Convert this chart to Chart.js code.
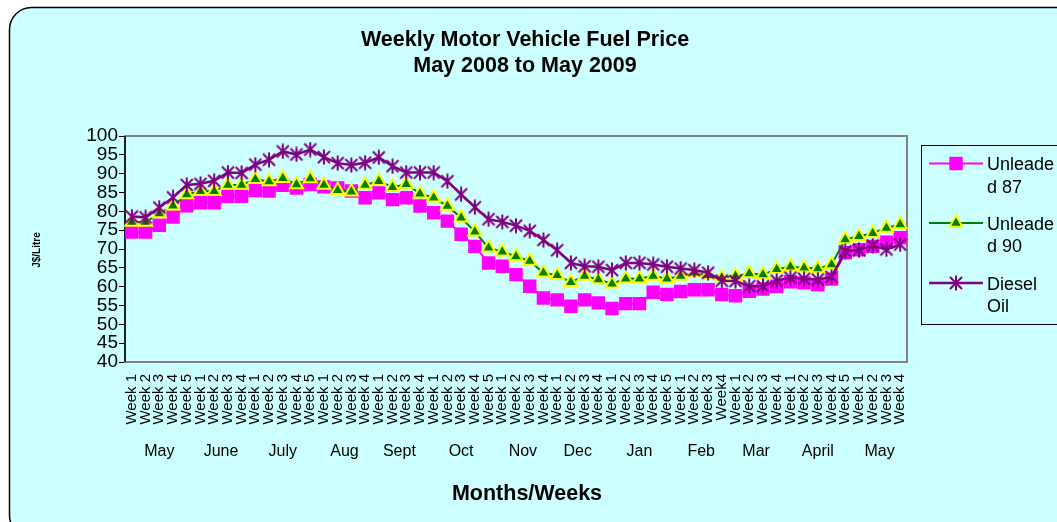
<!DOCTYPE html>
<html>
<head>
<meta charset="utf-8">
<script src="https://cdn.jsdelivr.net/npm/chart.js@4"></script>
<style>
  html, body { margin: 0; padding: 0; background: #fff; }
  #chart { display: block; }
</style>
</head>
<body>
<canvas id="chart" width="1057" height="522"></canvas>
<script>
// Months along the bottom and how many weeks each one has
const months = ["May", "June", "July", "Aug", "Sept", "Oct", "Nov", "Dec", "Jan", "Feb", "Mar", "April", "May"];
const weeksPerMonth = [5, 4, 5, 4, 4, 5, 4, 4, 5, 4, 4, 5, 4];

const weekLabels = [
  "Week 1", "Week 2", "Week 3", "Week 4", "Week 5",
  "Week 1", "Week 2", "Week 3", "Week 4",
  "Week 1", "Week 2", "Week 3", "Week 4", "Week 5",
  "Week 1", "Week 2", "Week 3", "Week 4",
  "Week 1", "Week 2", "Week 3", "Week 4",
  "Week 1", "Week 2", "Week 3", "Week 4", "Week 5",
  "Week 1", "Week 2", "Week 3", "Week 4",
  "Week 1", "Week 2", "Week 3", "Week 4",
  "Week 1", "Week 2", "Week 3", "Week 4", "Week 5",
  "Week 1", "Week 2", "Week 3", "Week4",
  "Week 1", "Week 2", "Week 3", "Week 4",
  "Week 1", "Week 2", "Week 3", "Week 4", "Week 5",
  "Week 1", "Week 2", "Week 3", "Week 4",
];

// J$ per litre
const unleaded87 = [
  74.5, 74.5, 76.3, 78.5, 81.5, 82.3, 82.3, 84.0, 84.0, 85.5,
  85.4, 86.9, 86.2, 87.1, 86.5, 86.2, 85.4, 83.6, 84.9, 83.1,
  83.6, 81.4, 79.6, 77.4, 73.9, 70.7, 66.3, 65.4, 63.2, 60.1,
  57.0, 56.5, 54.8, 56.5, 55.7, 54.2, 55.5, 55.5, 58.5, 57.9,
  58.7, 59.2, 59.2, 57.9, 57.6, 58.8, 59.4, 60.1, 61.3, 61.0,
  60.5, 62.0, 69.0, 69.8, 70.7, 71.8, 73.0,
];
const unleaded90 = [
  77.2, 77.2, 79.4, 81.5, 84.5, 85.3, 85.3, 87.0, 87.0, 88.5,
  87.9, 88.8, 87.1, 88.7, 87.0, 85.6, 85.2, 87.0, 88.0, 86.4,
  87.2, 84.7, 83.6, 81.4, 78.3, 74.6, 70.3, 69.3, 68.0, 66.8,
  63.7, 63.0, 61.2, 62.8, 61.9, 60.8, 62.1, 62.1, 62.8, 62.1,
  62.8, 63.7, 63.0, 62.4, 62.8, 63.5, 63.2, 64.6, 65.3, 65.0,
  64.8, 65.9, 72.5, 73.4, 74.2, 75.6, 76.5,
];
const dieselOil = [
  78.6, 78.4, 81.0, 83.7, 87.0, 87.3, 88.1, 90.3, 90.2, 92.4,
  93.7, 95.9, 95.1, 96.4, 94.4, 92.8, 92.3, 92.9, 94.3, 92.0,
  90.3, 90.3, 90.3, 88.0, 84.5, 81.1, 77.9, 77.2, 76.2, 74.8,
  72.4, 69.7, 66.3, 65.4, 65.3, 64.4, 66.3, 66.3, 65.9, 65.3,
  64.8, 64.4, 63.7, 61.6, 61.5, 60.1, 60.1, 61.6, 62.4, 62.1,
  61.9, 62.6, 69.4, 69.7, 70.9, 69.9, 71.2,
];

const FONT = "'Liberation Sans', Arial, sans-serif";

// excel style star: an X with a vertical bar
const starImg = document.createElement("canvas");
starImg.width = 16;
starImg.height = 16;
(function () {
  const c = starImg.getContext("2d");
  c.strokeStyle = "#800080";
  c.lineWidth = 2;
  c.beginPath();
  c.moveTo(2, 2); c.lineTo(14, 14);
  c.moveTo(14, 2); c.lineTo(2, 14);
  c.moveTo(8, 0.5); c.lineTo(8, 15.5);
  c.stroke();
})();

const frame = {
  id: "frame",
  beforeDraw(chart) {
    const ctx = chart.ctx;
    ctx.save();
    ctx.fillStyle = "#fff";
    ctx.fillRect(0, 0, chart.width, chart.height);
    ctx.beginPath();
    ctx.roundRect(9.5, 7.5, 1070, 530, 22);
    ctx.fillStyle = "#CCFFFF";
    ctx.fill();
    ctx.strokeStyle = "#000";
    ctx.lineWidth = 1.5;
    ctx.stroke();
    ctx.restore();
  },
  beforeDatasetsDraw(chart) {
    const { ctx, chartArea: a } = chart;
    ctx.save();
    ctx.strokeStyle = "#808080";
    ctx.lineWidth = 2;
    ctx.strokeRect(a.left, a.top, a.right - a.left, a.bottom - a.top);
    ctx.strokeStyle = "#000";
    ctx.lineWidth = 1.5;
    ctx.beginPath();
    ctx.moveTo(a.left, a.top);
    ctx.lineTo(a.left, a.bottom);
    ctx.stroke();
    ctx.restore();
  },
  afterDraw(chart) {
    const ctx = chart.ctx;
    const x = chart.scales.x;
    ctx.save();
    ctx.fillStyle = "#000";
    ctx.textAlign = "center";
    ctx.textBaseline = "middle";

    // titles
    ctx.font = "bold 21.5px " + FONT;
    ctx.fillText("Weekly Motor Vehicle Fuel Price", 525, 40);
    ctx.fillText("May 2008 to May 2009", 525, 66);
    ctx.fillText("Months/Weeks", 527, 494);

    // month names under the week groups
    ctx.font = "16px " + FONT;
    let i = 0;
    months.forEach((m, k) => {
      const first = i, last = i + weeksPerMonth[k] - 1;
      const cx = (x.getPixelForValue(first) + x.getPixelForValue(last)) / 2;
      ctx.fillText(m, cx, 452);
      i += weeksPerMonth[k];
    });

    // y axis title
    ctx.save();
    ctx.translate(37, 250);
    ctx.rotate(-Math.PI / 2);
    ctx.font = "bold 10px " + FONT;
    ctx.fillText("J$/Litre", 0, 0);
    ctx.restore();

    // legend box
    ctx.strokeStyle = "#000";
    ctx.lineWidth = 1;
    ctx.strokeRect(921.5, 145.5, 150, 179);
    const rows = [
      { y: 163.5, lines: ["Unleade", "d 87"] },
      { y: 223, lines: ["Unleade", "d 90"] },
      { y: 283, lines: ["Diesel", "Oil"] },
    ];
    ctx.textAlign = "left";
    ctx.textBaseline = "alphabetic";
    ctx.font = "18px " + FONT;
    chart.data.datasets.forEach((ds, k) => {
      const r = rows[k];
      ctx.strokeStyle = ds.borderColor;
      ctx.lineWidth = ds.borderWidth;
      ctx.beginPath();
      ctx.moveTo(929, r.y);
      ctx.lineTo(983, r.y);
      ctx.stroke();
      ctx.fillStyle = ds.pointBackgroundColor || ds.borderColor;
      ctx.strokeStyle = ds.pointBorderColor || ds.borderColor;
      ctx.lineWidth = ds.pointBorderWidth;
      Chart.helpers.drawPoint(ctx, {
        pointStyle: ds.pointStyle,
        radius: ds.pointRadius,
        borderWidth: ds.pointBorderWidth,
        rotation: 0,
      }, 956, r.y);
      ctx.fillStyle = "#000";
      ctx.fillText(r.lines[0], 987, r.y + 6.5);
      ctx.fillText(r.lines[1], 987, r.y + 29);
    });
    ctx.restore();
  },
};

const chart = new Chart(document.getElementById("chart"), {
  type: "line",
  data: {
    labels: weekLabels,
    datasets: [
      {
        label: "Unleaded 87",
        data: unleaded87,
        borderColor: "#FF00FF",
        backgroundColor: "#FF00FF",
        borderWidth: 2,
        pointStyle: "rect",
        pointRadius: 9.5,
        pointBackgroundColor: "#FF00FF",
        pointBorderColor: "#FF00FF",
        pointBorderWidth: 0,
        order: 3,
      },
      {
        label: "Unleaded 90",
        data: unleaded90,
        borderColor: "#008000",
        backgroundColor: "#008000",
        borderWidth: 2,
        pointStyle: "triangle",
        pointRadius: 7.5,
        pointBackgroundColor: "#008000",
        pointBorderColor: "#FFFF00",
        pointBorderWidth: 2,
        order: 2,
      },
      {
        label: "Diesel Oil",
        data: dieselOil,
        borderColor: "#800080",
        backgroundColor: "#800080",
        borderWidth: 2.5,
        pointStyle: starImg,
        pointRadius: 8,
        pointBorderWidth: 0,
        order: 1,
      },
    ],
  },
  options: {
    responsive: false,
    animation: false,
    layout: { padding: { left: 0, right: 150, top: 136, bottom: 0 } },
    plugins: {
      legend: { display: false },
      title: { display: false },
      tooltip: { enabled: false },
    },
    scales: {
      x: {
        offset: true,
        grid: { display: false },
        border: { display: false },
        ticks: {
          autoSkip: false,
          maxRotation: 90,
          minRotation: 90,
          padding: 4,
          color: "#000",
          font: { family: FONT, size: 15 },
        },
        afterFit(s) { s.height = 160; },
      },
      y: {
        min: 40,
        max: 100,
        ticks: {
          stepSize: 5,
          autoSkip: false,
          padding: 1,
          color: "#000",
          font: { family: FONT, size: 19 },
        },
        grid: { drawOnChartArea: false, drawTicks: true, tickLength: 6, color: "#000" },
        border: { display: false },
        afterFit(s) { s.width = 125; },
      },
    },
  },
  plugins: [frame],
});
</script>
</body>
</html>
